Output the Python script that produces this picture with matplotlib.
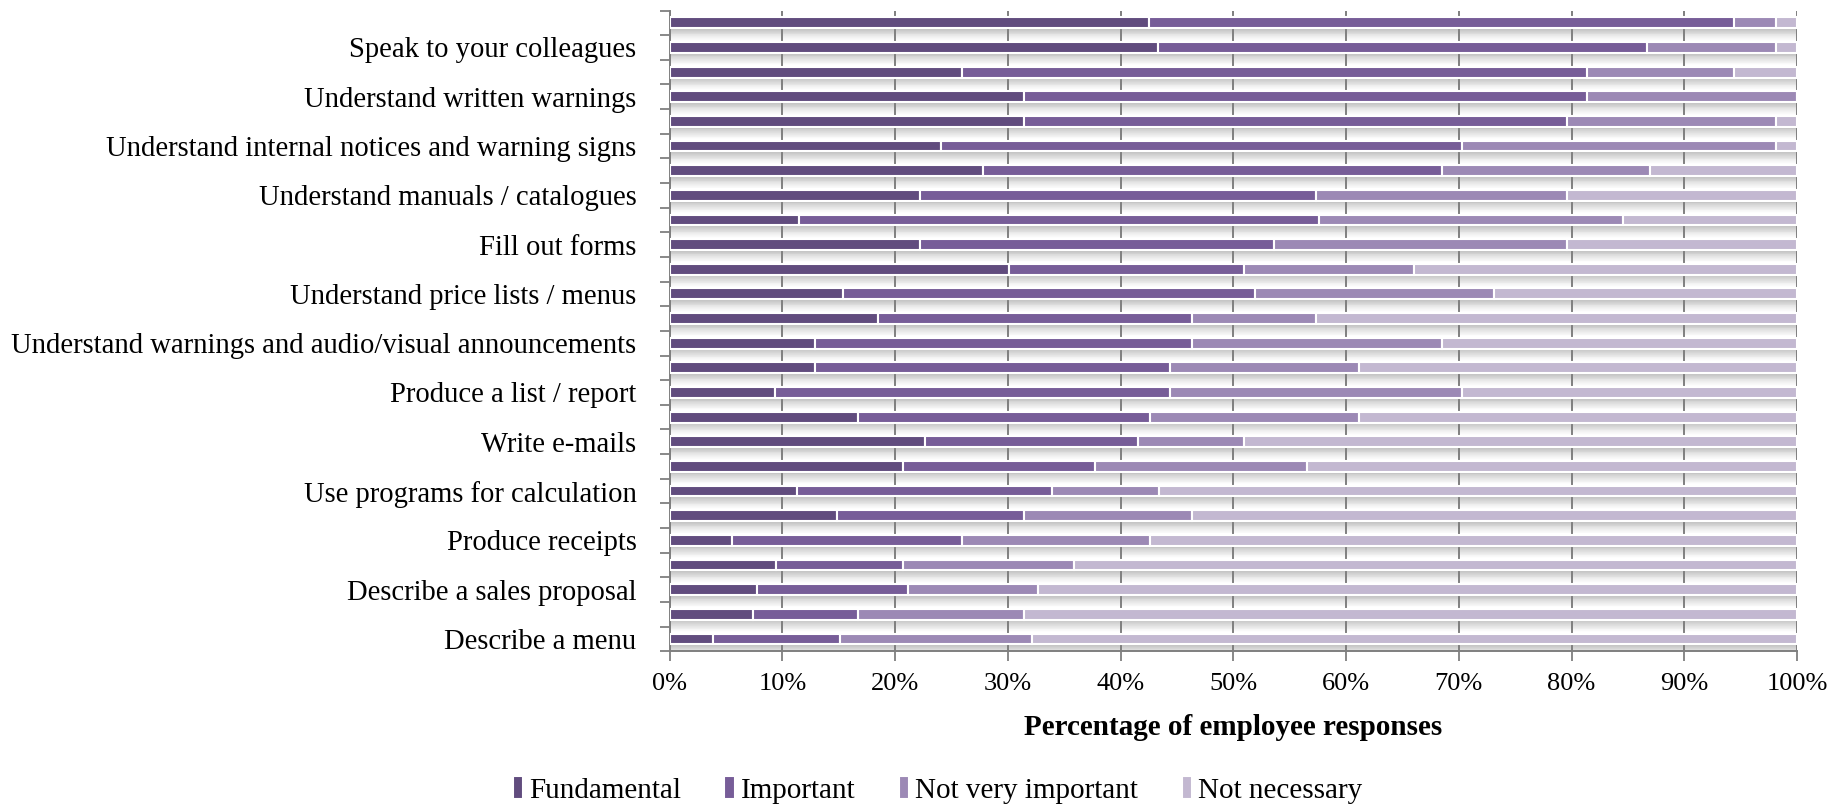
"""
plot.py

stacked horizontal bar chart of employee responses on language tasks
"""

import numpy as np
import matplotlib
matplotlib.use('Agg')
from matplotlib import pyplot as plt

# rows from top to bottom, only every other row carries a label
labels = ['', 'Speak to your colleagues',
          '', 'Understand written warnings',
          '', 'Understand internal notices and warning signs',
          '', 'Understand manuals / catalogues',
          '', 'Fill out forms',
          '', 'Understand price lists / menus',
          '', 'Understand warnings and audio/visual announcements',
          '', 'Produce a list / report',
          '', 'Write e-mails',
          '', 'Use programs for calculation',
          '', 'Produce receipts',
          '', 'Describe a sales proposal',
          '', 'Describe a menu']

# cumulative ends of each segment (percent)
fundamental_end = [42.5, 43.3, 25.9, 31.4, 31.4, 24.1, 27.8, 22.2, 11.5, 22.2, 30.1, 15.4, 18.5,
                   12.9, 12.9, 9.3, 16.7, 22.6, 20.7, 11.3, 14.8, 5.5, 9.4, 7.7, 7.4, 3.8]
important_end = [94.4, 86.7, 81.4, 81.4, 79.6, 70.3, 68.5, 57.3, 57.6, 53.6, 50.9, 51.9, 46.3,
                 46.3, 44.4, 44.4, 42.6, 41.5, 37.7, 33.9, 31.4, 25.9, 20.7, 21.1, 16.7, 15.1]
not_very_end = [98.1, 98.1, 94.4, 100.0, 98.1, 98.1, 87.0, 79.6, 84.6, 79.6, 66.0, 73.1, 57.3,
                68.5, 61.1, 70.3, 61.1, 50.9, 56.5, 43.4, 46.3, 42.6, 35.9, 32.7, 31.4, 32.1]

series_names = ['Fundamental', 'Important', 'Not very important', 'Not necessary']
colors = ['#614c7e', '#775d98', '#9c89b5', '#c3b8d1']

fund = np.array(fundamental_end)
imp = np.array(important_end) - fund
nvi = np.array(not_very_end) - np.array(important_end)
nn = 100.0 - np.array(not_very_end)
segments = [fund, imp, nvi, nn]

plt.rcParams['font.family'] = ['Liberation Serif', 'DejaVu Serif']

fig = plt.figure(figsize=(18.45, 8.09), dpi=100)
ax = fig.add_axes([0.363, 0.195, 0.611, 0.792])

y = np.arange(len(labels))
bar_h = 0.44

# soft shadow under every bar
n_steps = 14
shadow_len = 0.5
step = shadow_len / n_steps
for j in range(n_steps):
    a = 0.42 * (1 - j / n_steps) ** 1.3
    ax.barh(y + bar_h / 2 + step * (j + 0.5), 100, height=step, left=0,
            color='0.4', alpha=a, linewidth=0, zorder=1)

left = np.zeros(len(labels))
for seg, name, c in zip(segments, series_names, colors):
    ax.barh(y, seg, left=left, height=bar_h, color=c, edgecolor='white',
            linewidth=1.5, label=name, zorder=3)
    left += seg

ax.set_xlim(0, 100)
ax.set_ylim(len(labels) - 0.5, -0.5)
ax.set_xticks(np.arange(0, 101, 10))
ax.set_xticklabels(['%d%%' % v for v in range(0, 101, 10)], fontsize=19)
ax.xaxis.grid(True, color='#7f7f7f', linewidth=1.4)
for gl in ax.get_xgridlines():
    gl.set_zorder(2)

ax.set_yticks(y)
ax.set_yticklabels(labels, fontsize=20.6)
ax.set_yticks(np.arange(-0.5, len(labels)), minor=True)
ax.tick_params(axis='y', which='major', length=0, pad=24)
ax.tick_params(axis='y', which='minor', length=7, width=1.3, color='#7f7f7f', direction='out')
ax.tick_params(axis='x', length=7, width=1.3, color='#7f7f7f', direction='out', pad=9)

for s in ['top', 'right']:
    ax.spines[s].set_visible(False)
for s in ['left', 'bottom']:
    ax.spines[s].set_color('#7f7f7f')
    ax.spines[s].set_linewidth(1.4)

ax.set_xlabel('Percentage of employee responses', fontsize=21, fontweight='bold', labelpad=13)

fig.legend(loc='lower center', bbox_to_anchor=(0.508, -0.026), ncol=4, frameon=False,
           fontsize=21, handlelength=0.35, handleheight=0.8, handletextpad=0.2,
           columnspacing=1.5)

fig.savefig('out.png', dpi=100)
